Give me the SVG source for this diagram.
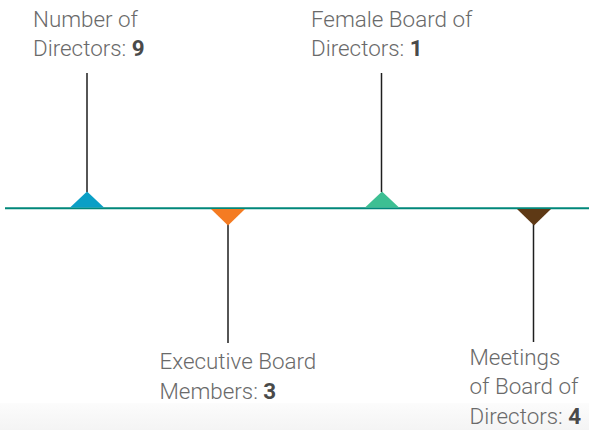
<svg xmlns="http://www.w3.org/2000/svg" width="589" height="430" viewBox="0 0 589 430">
<defs>
<linearGradient id="bg" x1="0" y1="0" x2="0" y2="1">
<stop offset="0" stop-color="#fcfcfc"/>
<stop offset="1" stop-color="#f4f4f4"/>
</linearGradient>
<style>
.t{font-family:Roboto,"Liberation Sans",sans-serif;font-weight:300;font-size:22.4px;fill:#6a6a6a}
.b{font-weight:700;fill:#4a4a4a}
.v{stroke:#1e1e1e;stroke-width:1.5}
</style>
</defs>
<rect width="589" height="430" fill="#ffffff"/>
<rect x="0" y="403" width="589" height="27" fill="url(#bg)"/>
<g id="connectors">
<line x1="5" y1="208.3" x2="589" y2="208.3" stroke="#00877a" stroke-width="2"/>
<line class="v" x1="87" y1="73" x2="87" y2="192"/>
<line class="v" x1="228" y1="224" x2="228" y2="343"/>
<line class="v" x1="381.5" y1="73" x2="381.5" y2="192"/>
<line class="v" x1="533.5" y1="224" x2="533.5" y2="342"/>
</g>
<g id="node-directors">
<polygon points="70,207.5 104,207.5 87,191.5" fill="#0a9fc6"/>
<text class="t" x="33" y="27">Number of</text>
<text class="t" x="33" y="56">Directors: <tspan class="b">9</tspan></text>
</g>
<g id="node-executive">
<polygon points="211,209 245,209 228,225.5" fill="#f47b22"/>
<text class="t" x="159.5" y="369">Executive Board</text>
<text class="t" x="159.5" y="399">Members: <tspan class="b">3</tspan></text>
</g>
<g id="node-female">
<polygon points="365,207.5 399,207.5 382,191.5" fill="#3dbf93"/>
<text class="t" x="311" y="27">Female Board of</text>
<text class="t" x="311" y="56">Directors: <tspan class="b">1</tspan></text>
</g>
<g id="node-meetings">
<polygon points="517,209 551,209 534,225.5" fill="#5e3915"/>
<text class="t" x="469.5" y="365">Meetings</text>
<text class="t" x="469.5" y="394">of Board of</text>
<text class="t" x="469.5" y="424">Directors: <tspan class="b">4</tspan></text>
</g>
</svg>
